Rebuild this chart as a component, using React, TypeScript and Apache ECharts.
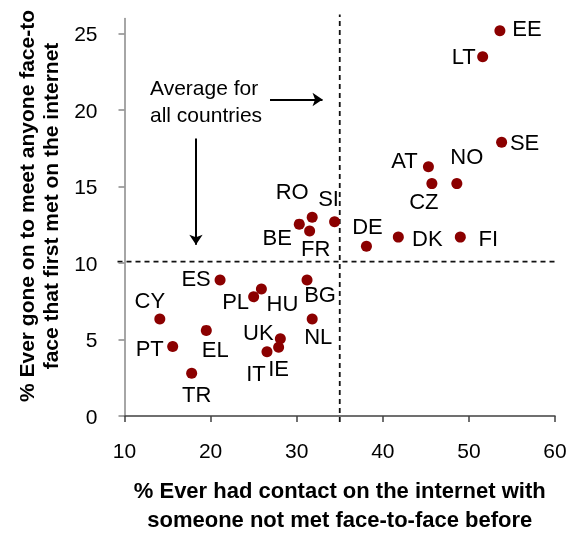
import React, { useEffect, useRef } from "react";
import * as echarts from "echarts";

const countries = ["EE", "LT", "SE", "AT", "NO", "CZ", "DE", "DK", "FI", "RO", "SI", "BE", "FR", "ES", "PL", "HU", "BG", "NL", "CY", "EL", "PT", "TR", "UK", "IE", "IT"];
const everContact = [53.6, 51.6, 53.8, 45.3, 48.6, 45.7, 38.1, 41.8, 49.0, 31.8, 34.4, 30.3, 31.5, 21.1, 25.0, 25.9, 31.2, 31.8, 14.1, 19.5, 15.6, 17.8, 28.1, 27.9, 26.55];
const everMet = [25.2, 23.5, 17.9, 16.3, 15.2, 15.2, 11.1, 11.7, 11.7, 13.0, 12.7, 12.55, 12.1, 8.9, 7.8, 8.3, 8.9, 6.35, 6.35, 5.6, 4.55, 2.8, 5.06, 4.5, 4.2];
const averageContact = 35;
const averageMet = 10.1;
const yTickValues = [0, 5, 10, 15, 20, 25];

// label placement (pixel offsets from the dot)
const labelOffsets: Record<string, [number, number]> = {
  EE: [27, -2], LT: [-19, 0], SE: [23, 0], AT: [-24, -6], NO: [10, -27], CZ: [-8, 18],
  DE: [1, -20], DK: [29, 1], FI: [28, 1], RO: [-20, -26], SI: [-6, -23], BE: [-22, 13],
  FR: [6, 17], ES: [-24, -1], PL: [-18, 5], HU: [21, 14], BG: [13, 15], NL: [6, 18],
  CY: [-10, -18], EL: [9, 19], PT: [-23, 2], TR: [5, 21], UK: [-22, -6], IE: [0, 21], IT: [-11, 22],
};

const FONT = "'Liberation Sans', Arial, sans-serif";

export default function App() {
  const ref = useRef<HTMLDivElement>(null);
  useEffect(() => {
    if (!ref.current) return;
    const chart = echarts.init(ref.current, null, { renderer: "svg" });
    const data = countries.map((c, i) => ({
      name: c,
      value: [everContact[i], everMet[i]],
      label: { offset: labelOffsets[c] },
    }));
    chart.setOption({
      animation: false,
      textStyle: { fontFamily: FONT },
      grid: { left: 124.5, right: 23, top: 18.5, bottom: 118 },
      xAxis: {
        type: "value",
        min: 10,
        max: 60,
        interval: 10,
        splitLine: { show: false },
        axisLine: { lineStyle: { color: "#404040", width: 1.5 } },
        axisTick: { length: 6, lineStyle: { color: "#404040", width: 1.5 } },
        axisLabel: { fontSize: 21, color: "#000", margin: 24, fontFamily: FONT },
        name: "% Ever had contact on the internet with\nsomeone not met face-to-face before",
        nameLocation: "middle",
        nameGap: 60,
        nameTextStyle: { fontSize: 22, fontWeight: "bold", color: "#000", lineHeight: 29, fontFamily: FONT },
      },
      yAxis: {
        type: "value",
        min: 0,
        max: 26,
        interval: 5,
        splitLine: { show: false },
        axisLine: { lineStyle: { color: "#888", width: 1.5 } },
        axisTick: { length: 6, customValues: yTickValues, lineStyle: { color: "#888", width: 1.5 } },
        axisLabel: { fontSize: 21, color: "#000", margin: 27, customValues: yTickValues, fontFamily: FONT },
      },
      series: [
        {
          type: "scatter",
          data,
          clip: false,
          symbol: "circle",
          symbolSize: 11,
          itemStyle: { color: "#8B0000", opacity: 1 },
          label: {
            show: true,
            position: "inside",
            formatter: "{b}",
            fontSize: 22,
            color: "#000",
            fontFamily: FONT,
            align: "center",
            verticalAlign: "middle",
          },
          markLine: {
            silent: true,
            symbol: ["none", "none"],
            label: { show: false },
            lineStyle: { type: "solid", width: 2, color: "#000" },
            data: [
              [
                { coord: [26.9, 20.7], symbol: "none" },
                { coord: [33.0, 20.7], symbol: "arrow", symbolSize: 10 },
              ],
              [
                { coord: [18.3, 18.15], symbol: "none" },
                { coord: [18.3, 11.2], symbol: "arrow", symbolSize: 10 },
              ],
            ],
          },
        },
      ],
    });

    // Average lines, placed through the chart's own scales
    const hl = chart.convertToPixel({ gridIndex: 0 }, [10, averageMet]) as number[];
    const hr = chart.convertToPixel({ gridIndex: 0 }, [60, averageMet]) as number[];
    const vb = chart.convertToPixel({ gridIndex: 0 }, [averageContact, 0]) as number[];
    const vt = chart.convertToPixel({ gridIndex: 0 }, [averageContact, 26]) as number[];
    const dash = { stroke: "#111", lineWidth: 1.8, lineDash: [5, 4] };
    chart.setOption({
      graphic: [
        {
          type: "line",
          silent: true,
          shape: { x1: hl[0] - 7, y1: hl[1], x2: hr[0], y2: hr[1] },
          style: dash,
        },
        {
          type: "line",
          silent: true,
          shape: { x1: vb[0], y1: vb[1] + 6, x2: vt[0], y2: vt[1] - 4 },
          style: dash,
        },
        {
          type: "text",
          x: 38,
          y: 206,
          rotation: Math.PI / 2,
          style: {
            text: "% Ever gone on to meet anyone face-to\nface that first met on the internet",
            font: `bold 21px ${FONT}`,
            fill: "#000",
            align: "center",
            verticalAlign: "middle",
            lineHeight: 24,
          },
        },
        {
          type: "text",
          left: 150,
          top: 74,
          style: {
            text: "Average for\nall countries",
            font: `21px ${FONT}`,
            fill: "#000",
            lineHeight: 27,
          },
        },
      ],
    });
    return () => chart.dispose();
  }, []);
  return <div ref={ref} style={{ position: "fixed", left: 0, top: 0, width: 578, height: 539 }} />;
}
